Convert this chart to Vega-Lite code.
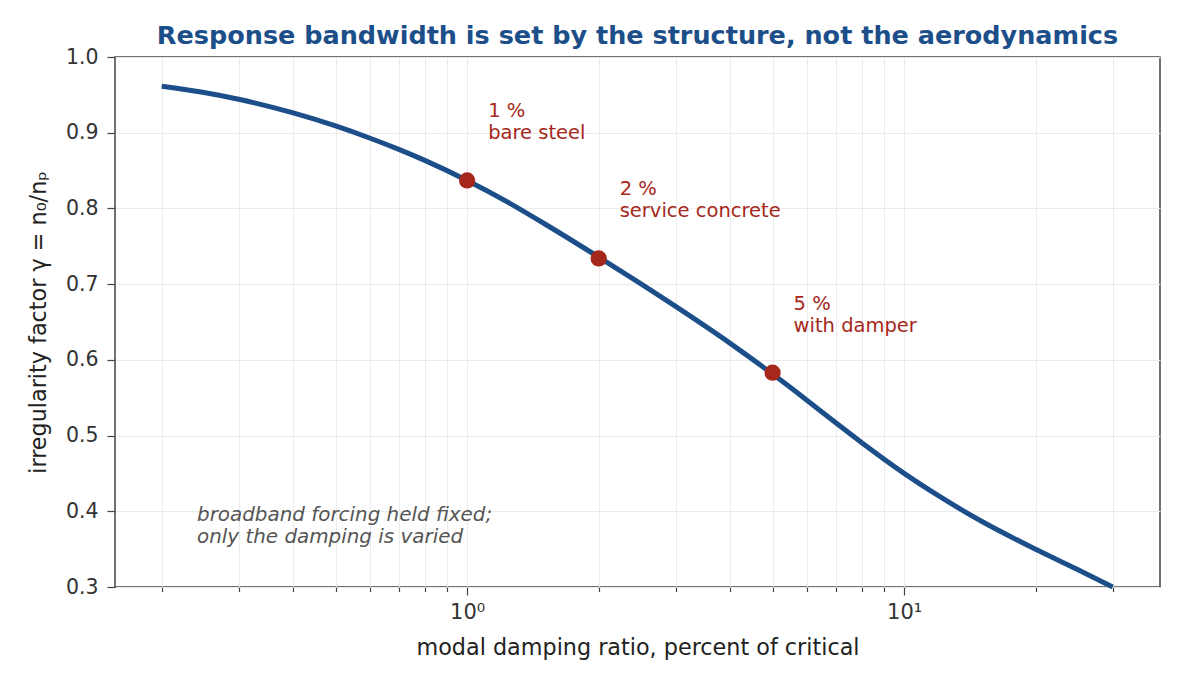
{
  "$schema": "https://vega.github.io/schema/vega-lite/v6.json",
  "description": "Irregularity factor against modal damping ratio, with three marked damping levels.",
  "width": 1045,
  "height": 530,
  "autosize": {"type": "none"},
  "padding": {"left": 115, "top": 57, "right": 24, "bottom": 101},
  "background": "white",
  "config": {
    "font": "DejaVu Sans",
    "view": {"stroke": "#444444", "strokeWidth": 1.5},
    "axis": {
      "domain": false,
      "gridColor": "#ebebeb",
      "gridWidth": 1,
      "tickColor": "#444444",
      "tickWidth": 1.2,
      "labelColor": "#333333",
      "titleColor": "#222222",
      "titleFontWeight": "normal",
      "labelFontSize": 20.5,
      "titleFontSize": 22.3
    }
  },
  "title": {
    "text": "Response bandwidth is set by the structure, not the aerodynamics",
    "fontSize": 25.5,
    "fontWeight": "bold",
    "color": "#1c4f8a",
    "anchor": "middle",
    "offset": -2
  },
  "datasets": {
    "curve": [
      {"damping": 0.2, "gamma": 0.9615},
      {"damping": 0.25, "gamma": 0.9531},
      {"damping": 0.3, "gamma": 0.9442},
      {"damping": 0.4, "gamma": 0.9261},
      {"damping": 0.5, "gamma": 0.9089},
      {"damping": 0.6, "gamma": 0.8927},
      {"damping": 0.7, "gamma": 0.8777},
      {"damping": 0.8, "gamma": 0.8635},
      {"damping": 1.0, "gamma": 0.837},
      {"damping": 1.25, "gamma": 0.8071},
      {"damping": 1.5, "gamma": 0.7801},
      {"damping": 2.0, "gamma": 0.7357},
      {"damping": 2.5, "gamma": 0.7003},
      {"damping": 3.0, "gamma": 0.6706},
      {"damping": 4.0, "gamma": 0.6218},
      {"damping": 5.0, "gamma": 0.5812},
      {"damping": 6.0, "gamma": 0.5464},
      {"damping": 7.0, "gamma": 0.5162},
      {"damping": 8.0, "gamma": 0.4906},
      {"damping": 10.0, "gamma": 0.4501},
      {"damping": 12.0, "gamma": 0.4203},
      {"damping": 15.0, "gamma": 0.3871},
      {"damping": 20.0, "gamma": 0.3498},
      {"damping": 25.0, "gamma": 0.3228},
      {"damping": 30.0, "gamma": 0.3}
    ],
    "cases": [
      {"damping": 1.0, "gamma": 0.837, "label": "1 %\nbare steel"},
      {"damping": 2.0, "gamma": 0.734, "label": "2 %\nservice concrete"},
      {"damping": 5.0, "gamma": 0.583, "label": "5 %\nwith damper"}
    ],
    "notes": [
      {"damping": 0.241, "gamma": 0.395, "label": "broadband forcing held fixed;\nonly the damping is varied"}
    ]
  },
  "encoding": {
    "x": {
      "field": "damping",
      "type": "quantitative",
      "scale": {"type": "log", "domain": [0.1564, 38.5], "nice": false},
      "axis": {
        "title": "modal damping ratio, percent of critical",
        "values": [0.2, 0.3, 0.4, 0.5, 0.6, 0.7, 0.8, 0.9, 1, 2, 3, 4, 5, 6, 7, 8, 9, 10, 20, 30],
        "labelExpr": "datum.value == 1 ? '10⁰' : (datum.value == 10 ? '10¹' : '')",
        "labelOverlap": false,
        "labelFlush": false,
        "tickSize": {"condition": {"test": "datum.value == 1 || datum.value == 10", "value": 8}, "value": 4.5},
        "labelFontSize": 21,
        "labelPadding": 6,
        "titlePadding": 14
      }
    },
    "y": {
      "field": "gamma",
      "type": "quantitative",
      "scale": {"domain": [0.3, 1.0], "nice": false, "zero": false},
      "axis": {
        "title": "irregularity factor  γ = n₀/nₚ",
        "values": [0.3, 0.4, 0.5, 0.6, 0.7, 0.8, 0.9, 1.0],
        "format": ".1f",
        "tickSize": 8,
        "labelPadding": 9,
        "titlePadding": 15
      }
    }
  },
  "layer": [
    {
      "data": {"name": "curve"},
      "mark": {"type": "line", "color": "#1c4f8a", "strokeWidth": 5, "interpolate": "monotone"}
    },
    {
      "data": {"name": "cases"},
      "mark": {"type": "circle", "color": "#a5281b", "size": 265, "opacity": 1}
    },
    {
      "data": {"name": "cases"},
      "mark": {"type": "text", "align": "left", "baseline": "middle", "dx": 21, "dy": -69, "fontSize": 19.5, "lineHeight": 22, "lineBreak": "\n", "color": "#a5281b"},
      "encoding": {"text": {"field": "label"}}
    },
    {
      "data": {"name": "notes"},
      "mark": {"type": "text", "align": "left", "baseline": "middle", "fontSize": 19.9, "fontStyle": "italic", "lineHeight": 22, "lineBreak": "\n", "color": "#555555"},
      "encoding": {"text": {"field": "label"}}
    }
  ]
}
